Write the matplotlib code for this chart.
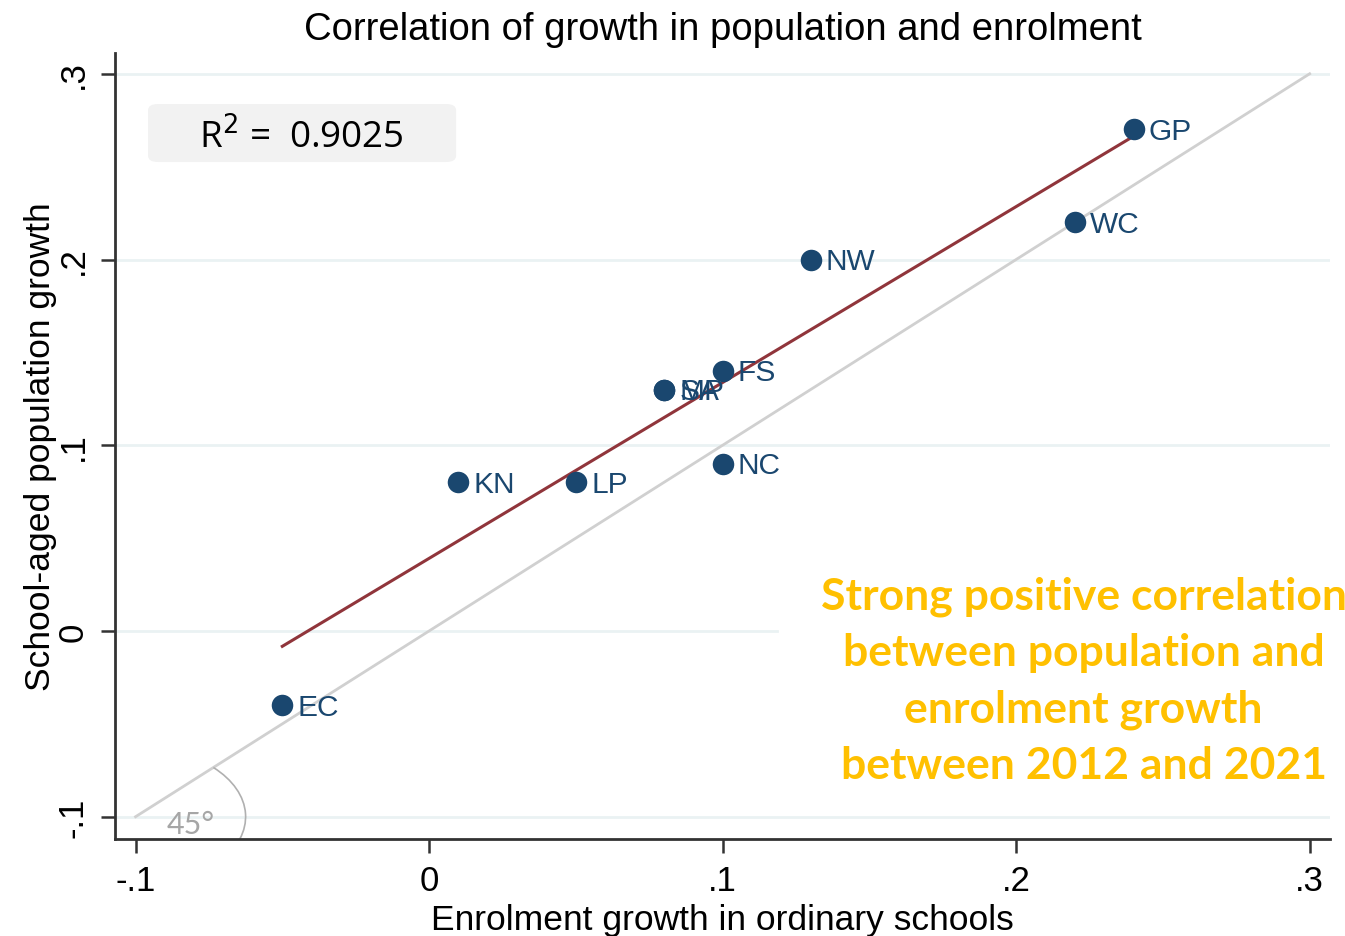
import numpy as np
import matplotlib
matplotlib.use("Agg")
import matplotlib.pyplot as plt
from matplotlib.patches import Arc, FancyBboxPatch

# Data
provinces = ["EC", "KN", "LP", "MP", "SA", "FS", "NC", "NW", "WC", "GP"]
enrol_growth = [-0.05, 0.01, 0.05, 0.08, 0.08, 0.10, 0.10, 0.13, 0.22, 0.24]
pop_growth = [-0.04, 0.08, 0.08, 0.13, 0.13, 0.14, 0.09, 0.20, 0.22, 0.27]
xticks = [-0.1, 0, 0.1, 0.2, 0.3]
xticklabels = ["-.1", "0", ".1", ".2", ".3"]
yticks = [-0.1, 0, 0.1, 0.2, 0.3]
yticklabels = ["-.1", "0", ".1", ".2", ".3"]

navy = "#1a476f"
maroon = "#90353b"
grid_c = "#eaf2f3"
AR = "Liberation Sans"

fig = plt.figure(figsize=(13.45, 9.37), dpi=100)
ax = fig.add_axes([0.0855, 0.1035, 0.9035, 0.8385])
ax.set_xlim(-0.107, 0.307)
ax.set_ylim(-0.112, 0.311)

# gridlines
for yv in yticks:
    if yv == 0:
        ax.axhline(yv, xmin=0, xmax=0.545, color=grid_c, lw=2, zorder=0)
    else:
        ax.axhline(yv, color=grid_c, lw=2, zorder=0)

x = np.array(enrol_growth)
y = np.array(pop_growth)

# 45 degree line
ax.plot([-0.1, 0.3], [-0.1, 0.3], color="#d0d0d0", lw=2, zorder=1)
ax.add_patch(Arc((-0.1, -0.1), 0.075, 0.075, theta1=-40, theta2=45,
                 color="#b0b0b0", lw=1.2, zorder=1))
ax.text(-0.0895, -0.1115, "45°", fontsize=22, color="#a6a6a6",
        family="Lato", ha="left", va="bottom", zorder=2)

# fit line
b, a = np.polyfit(x, y, 1)
xs = np.array([x.min(), x.max()])
ax.plot(xs, a + b * xs, color=maroon, lw=2.2, zorder=2)
r2 = np.corrcoef(x, y)[0, 1] ** 2

# points
ax.scatter(x, y, s=240, color=navy, zorder=3, linewidths=0)
for lab, xi, yi in zip(provinces, x, y):
    ax.annotate(lab, (xi, yi), xytext=(11, -1), textcoords="offset points",
                ha="left", va="center", fontsize=21.5, color=navy,
                family=AR, zorder=4)

# R2 box
ax.add_patch(FancyBboxPatch((0.0272, 0.8617), 0.2535, 0.0738,
                            boxstyle="round,pad=0,rounding_size=0.008",
                            transform=ax.transAxes, facecolor="#f2f2f2",
                            edgecolor="none", zorder=3))
ax.text(0.153, 0.8935, r"R$^2$ =  " + f"{r2:.4f}", transform=ax.transAxes,
        fontsize=26.5, family="Open Sans", ha="center", va="center", zorder=4)

# annotation
ax.text(0.797, 0.202,
        "Strong positive correlation\nbetween population and\nenrolment growth\nbetween 2012 and 2021",
        transform=ax.transAxes, ha="center", va="center", multialignment="center",
        fontsize=32, family="Lato", fontweight="bold", color="#ffc000",
        linespacing=1.49, clip_on=False)

# axes styling
for s in ["top", "right"]:
    ax.spines[s].set_visible(False)
for s in ["left", "bottom"]:
    ax.spines[s].set_color("#333333")
    ax.spines[s].set_linewidth(2)
ax.set_xticks(xticks)
ax.set_xticklabels(xticklabels, fontsize=25, family=AR)
ax.set_yticks(yticks)
ax.set_yticklabels(yticklabels, fontsize=25, family=AR,
                   rotation=90, va="center")
ax.tick_params(axis="both", length=10, width=1.8, color="#333333", pad=8)
ax.set_xlabel("Enrolment growth in ordinary schools", fontsize=25.5,
              family=AR, labelpad=4)
ax.set_ylabel("School-aged population growth", fontsize=25.5,
              family=AR, labelpad=0)
ax.set_title("Correlation of growth in population and enrolment", fontsize=27.5,
             family=AR, pad=10)

fig.savefig("out.png", dpi=100)
